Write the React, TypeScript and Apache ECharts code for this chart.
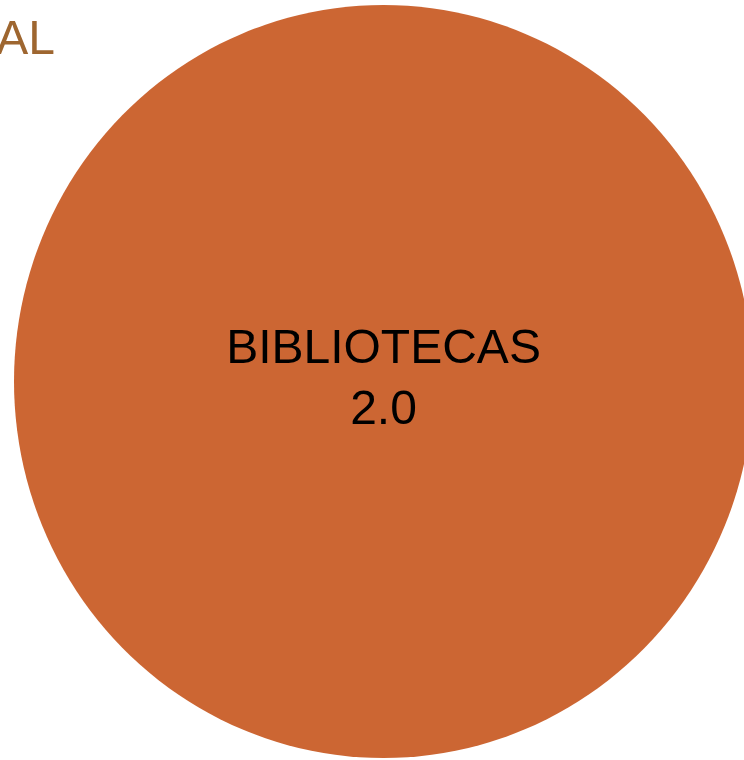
import React, { useEffect, useRef } from "react";
import * as echarts from "echarts";

// Node names (labels) and their positions in the layout space
const nodeNames = ["BIBLIOTECAS\n2.0", "AL"];
const nodeX = [383.5, 55];
const nodeY = [381.5, 37];
const nodeColors = ["#cc6633", "#9e6630"];

export default function App() {
  const ref = useRef<HTMLDivElement>(null);

  useEffect(() => {
    if (!ref.current) return;
    const chart = echarts.init(ref.current, undefined, { renderer: "svg" });
    const option = {
      animation: false,
      grid: { left: 0, right: 0, top: 0, bottom: 0 },
      xAxis: { type: "value", min: 0, max: 744, show: false },
      yAxis: { type: "value", min: 0, max: 760, inverse: true, show: false },
      series: [
        {
          type: "scatter",
          silent: true,
          itemStyle: { opacity: 1 },
          data: [
            {
              name: nodeNames[0],
              value: [nodeX[0], nodeY[0]],
              symbol: "circle",
              symbolSize: [739, 753],
              itemStyle: { color: nodeColors[0], opacity: 1 },
              label: {
                show: true,
                position: "inside",
                formatter: "{b}",
                offset: [0, -5],
                color: "#000000",
                opacity: 1,
                fontSize: 48,
                lineHeight: 61,
                fontFamily: "Liberation Sans, Arial, sans-serif",
                align: "center",
              },
            },
            {
              name: nodeNames[1],
              value: [nodeX[1], nodeY[1]],
              symbolSize: 0,
              itemStyle: { color: "transparent", opacity: 1 },
              label: {
                show: true,
                position: "inside",
                formatter: "{b}",
                color: nodeColors[1],
                opacity: 1,
                fontSize: 48,
                fontFamily: "Liberation Sans, Arial, sans-serif",
                align: "right",
                verticalAlign: "middle",
              },
            },
          ],
        },
      ],
    };
    chart.setOption(option);
    return () => chart.dispose();
  }, []);

  return (
    <div
      ref={ref}
      style={{ position: "fixed", left: 0, top: 0, width: 744, height: 760 }}
    />
  );
}
